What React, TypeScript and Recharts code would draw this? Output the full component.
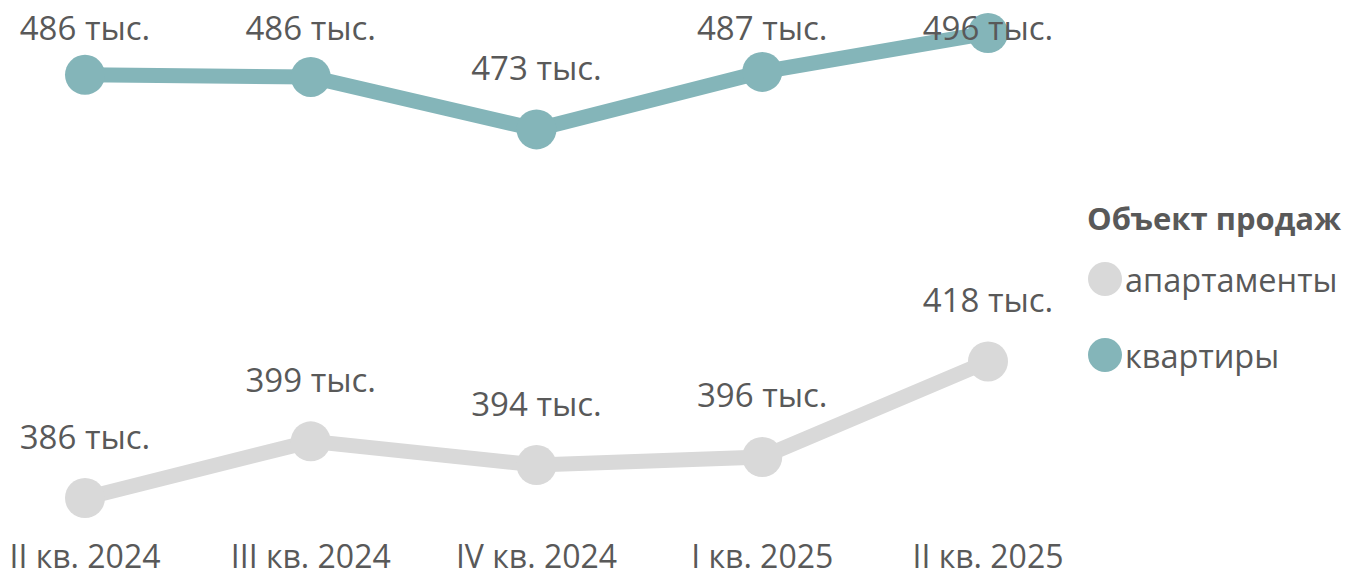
import { LabelList, Legend, Line, LineChart, XAxis, YAxis } from "recharts";

const QUARTERS = ["II кв. 2024", "III кв. 2024", "IV кв. 2024", "I кв. 2025", "II кв. 2025"];
// средняя цена, тыс. руб. за кв. м
const APARTMENTS = [386.0, 399.4, 393.8, 395.7, 418.3];
const FLATS = [486.1, 485.6, 473.2, 486.8, 496.0];

const COLORS = { apartments: "#d9d9d9", flats: "#84b5b9" };
const TEXT = "#595959";
const FONT = '"Open Sans", sans-serif';

const data = QUARTERS.map((quarter, i) => ({
  quarter,
  апартаменты: APARTMENTS[i],
  квартиры: FLATS[i],
}));

function ValueLabel(props: any) {
  const { x, y, value } = props;
  return (
    <text
      x={x}
      y={Math.max(y - 62, 27)}
      textAnchor="middle"
      dominantBaseline="central"
      fill={TEXT}
      fontSize={33}
      fontFamily={FONT}
    >
      {`${Math.round(value)} тыс.`}
    </text>
  );
}

function QuarterTick(props: any) {
  const { x, y, payload } = props;
  return (
    <text
      x={x}
      y={y + 57}
      textAnchor="middle"
      dominantBaseline="central"
      fill={TEXT}
      fontSize={32}
      fontFamily={FONT}
    >
      {payload.value}
    </text>
  );
}

function SalesLegend(props: any) {
  const { payload = [] } = props;
  return (
    <div style={{ paddingLeft: 100, fontFamily: FONT, color: TEXT }}>
      <div style={{ fontWeight: 700, fontSize: 31, lineHeight: "46px", marginLeft: -1 }}>
        Объект продаж
      </div>
      {payload.map((entry: any) => (
        <div
          key={entry.value}
          style={{ display: "flex", alignItems: "center", height: 76, fontSize: 32.5 }}
        >
          <span
            style={{
              width: 34,
              height: 34,
              borderRadius: "50%",
              background: entry.color,
              marginRight: 3,
              flexShrink: 0,
            }}
          />
          <span>{entry.value}</span>
        </div>
      ))}
    </div>
  );
}

export default function App() {
  return (
    <div style={{ position: "absolute", left: 0, top: 0, background: "#fff" }}>
      <LineChart
        width={1350}
        height={578}
        data={data}
        margin={{ top: 33, right: 8, left: 85, bottom: 0 }}
      >
        <XAxis
          dataKey="quarter"
          padding={{ left: 0, right: 0 }}
          axisLine={false}
          tickLine={false}
          tickSize={0}
          tickMargin={0}
          height={80}
          interval={0}
          tick={<QuarterTick />}
        />
        <YAxis hide domain={[386, 496]} />
        <Legend
          layout="vertical"
          align="right"
          verticalAlign="middle"
          content={<SalesLegend />}
          wrapperStyle={{ width: 354, top: 195 }}
        />
        <Line
          dataKey="апартаменты"
          stroke={COLORS.apartments}
          strokeWidth={15}
          dot={{ r: 20, fill: COLORS.apartments, stroke: "none" }}
          activeDot={false}
          isAnimationActive={false}
        >
          <LabelList dataKey="апартаменты" content={<ValueLabel />} />
        </Line>
        <Line
          dataKey="квартиры"
          stroke={COLORS.flats}
          strokeWidth={15}
          dot={{ r: 20, fill: COLORS.flats, stroke: "none" }}
          activeDot={false}
          isAnimationActive={false}
        >
          <LabelList dataKey="квартиры" content={<ValueLabel />} />
        </Line>
      </LineChart>
    </div>
  );
}
